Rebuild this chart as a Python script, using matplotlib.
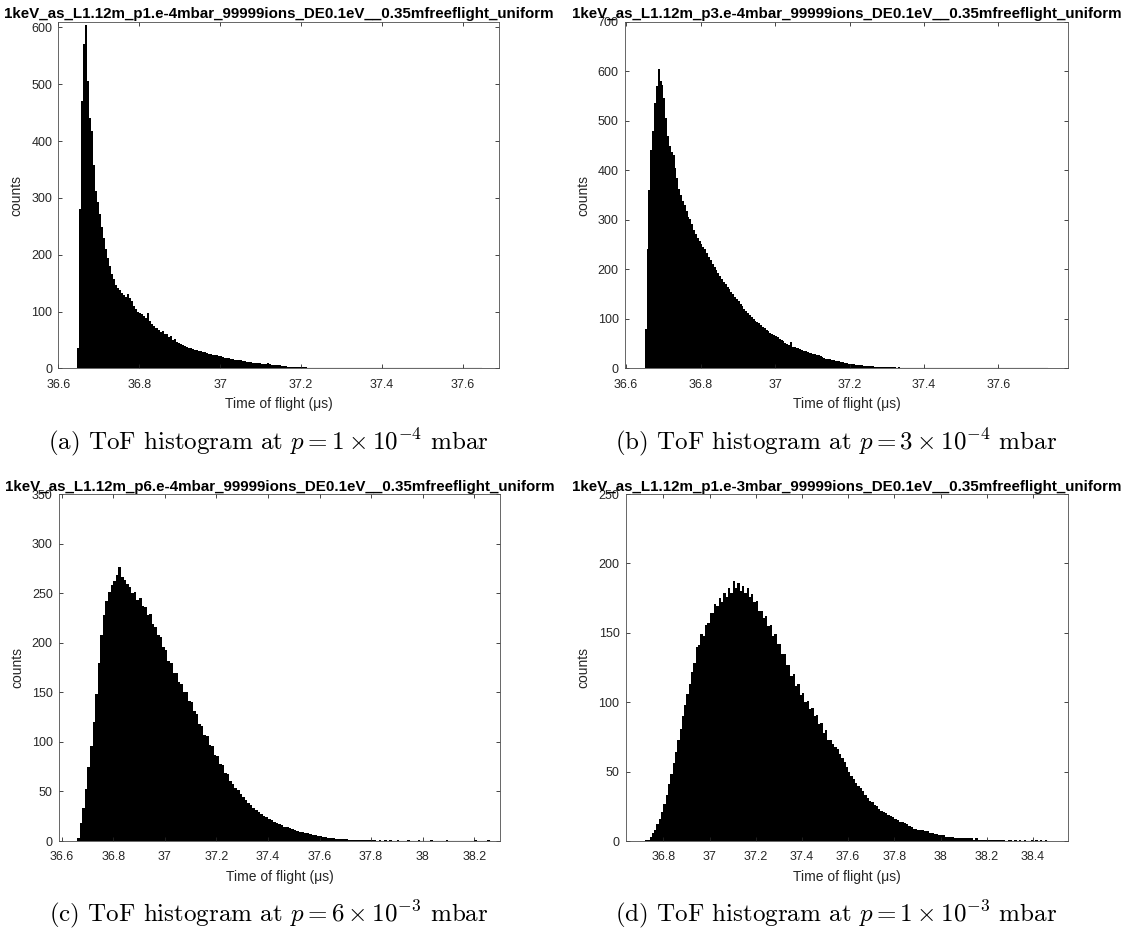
import numpy as np
import matplotlib
matplotlib.use("Agg")
import matplotlib.pyplot as plt
from matplotlib.ticker import FormatStrFormatter

plt.rcParams['font.family'] = ['Liberation Sans', 'DejaVu Sans']
plt.rcParams['mathtext.fontset'] = 'cm'

# histogram data (counts per bin)
start_a = 36.645
width_a = 0.005
counts_a = [35, 280, 470, 570, 605, 505, 440, 418, 358, 312,
            292, 272, 248, 230, 210, 194, 180, 166, 158, 146,
            141, 137, 133, 129, 126, 131, 123, 118, 110, 104,
            100, 97, 95, 92, 88, 98, 84, 78, 74, 71,
            68, 64, 66, 60, 61, 55, 57, 50, 51, 46,
            45, 43, 41, 40, 38, 36, 35, 34, 33, 32,
            31, 30, 29, 28, 27, 26, 25, 24, 24, 23,
            22, 21, 20, 19, 18, 18, 17, 16, 15, 15,
            14, 14, 13, 13, 12, 12, 11, 10, 9, 9,
            9, 8, 8, 7, 10, 7, 6, 6, 5, 5,
            5, 4, 4, 4, 3, 3, 3, 3, 2, 2,
            2, 2, 2, 2, 1, 1, 1, 1, 1, 1,
            1, 1, 1, 1, 1, 1, 1, 0, 1, 1,
            1, 0, 1, 0, 1, 0, 0, 1, 0, 1,
            0, 1, 0, 0, 1, 0, 0, 0, 1, 0,
            0, 0, 1, 0, 0, 0, 1, 0, 0, 0,
            0, 1, 0, 0, 0, 0, 0, 1, 0, 0,
            0, 0, 0, 1, 0, 0, 0, 0, 0, 1,
            0, 0, 0, 0, 1, 0, 0, 0, 0, 0,
            0, 0, 0, 1, 0, 0, 0, 0, 0, 1]

start_b = 36.650
width_b = 0.005
counts_b = [80, 240, 360, 440, 480, 535, 570, 605, 580, 572,
            545, 505, 470, 448, 436, 430, 405, 385, 362, 350,
            338, 330, 318, 306, 302, 292, 280, 271, 263, 257,
            252, 246, 241, 232, 225, 218, 211, 204, 198, 192,
            186, 180, 175, 170, 165, 160, 155, 150, 145, 140,
            135, 130, 125, 120, 116, 112, 108, 104, 100, 96,
            94, 91, 88, 84, 81, 78, 75, 72, 70, 68,
            66, 64, 60, 57, 55, 52, 50, 48, 54, 44,
            43, 42, 41, 40, 38, 36, 34, 33, 31, 30,
            29, 28, 27, 26, 24, 22, 20, 19, 18, 18,
            17, 16, 15, 15, 14, 13, 12, 11, 10, 9,
            9, 8, 8, 7, 7, 6, 6, 5, 5, 5,
            4, 4, 4, 3, 3, 3, 3, 3, 2, 2,
            2, 2, 2, 2, 2, 1, 2, 1, 1, 1,
            1, 1, 1, 1, 1, 1, 0, 1, 1, 0,
            1, 0, 1, 0, 1, 0, 0, 1, 0, 0,
            0, 1, 0, 0, 0, 1, 0, 0, 0, 0,
            0, 0, 1, 0, 0, 0, 0, 1, 0, 0,
            0, 0, 0, 0, 1, 0, 0, 0, 0, 0,
            1, 0, 0, 0, 0, 0, 0, 1, 0, 0,
            0, 0, 0, 0, 0, 0, 0, 0, 0, 0,
            0, 0, 0, 0, 0, 1]

start_c = 36.66
width_c = 0.01
counts_c = [3, 18, 33, 52, 75, 96, 120, 148, 180, 208,
            228, 242, 251, 258, 262, 268, 276, 266, 263, 259,
            256, 250, 251, 243, 245, 237, 236, 228, 229, 219,
            216, 208, 206, 196, 193, 182, 180, 170, 169, 160,
            158, 150, 150, 141, 140, 131, 128, 118, 116, 107,
            106, 97, 96, 87, 86, 78, 77, 69, 68, 61,
            58, 54, 51, 47, 44, 41, 38, 36, 33, 31,
            29, 27, 25, 24, 22, 21, 19, 18, 17, 16,
            14, 14, 13, 12, 11, 10, 9, 9, 8, 8,
            7, 6, 6, 5, 5, 4, 4, 3, 3, 3,
            2, 2, 2, 2, 2, 1, 1, 1, 1, 1,
            1, 1, 1, 1, 1, 1, 0, 1, 0, 1,
            0, 1, 0, 0, 1, 0, 0, 0, 1, 0,
            0, 0, 1, 0, 0, 0, 0, 1, 0, 0,
            0, 0, 0, 1, 0, 0, 0, 0, 0, 0,
            0, 0, 0, 0, 1, 0, 0, 0, 0, 1]

start_d = 36.72
width_d = 0.01
counts_d = [1, 1, 3, 6, 8, 12, 16, 21, 27, 33,
            41, 48, 56, 64, 73, 81, 90, 98, 106, 113,
            122, 128, 140, 141, 149, 148, 156, 157, 164, 164,
            171, 169, 175, 172, 179, 176, 182, 179, 187, 182,
            186, 180, 184, 179, 182, 176, 178, 172, 173, 166,
            166, 161, 162, 155, 156, 148, 149, 142, 142, 135,
            135, 127, 127, 119, 120, 112, 113, 105, 107, 100,
            101, 95, 96, 90, 91, 84, 85, 78, 80, 73,
            73, 70, 68, 66, 63, 60, 57, 53, 50, 47,
            45, 42, 40, 38, 36, 33, 31, 29, 28, 26,
            25, 23, 22, 21, 20, 19, 18, 17, 16, 15,
            14, 14, 13, 12, 11, 10, 9, 9, 8, 8,
            8, 7, 7, 6, 6, 5, 5, 4, 4, 4,
            3, 3, 3, 3, 2, 2, 2, 2, 2, 2,
            2, 2, 1, 2, 1, 1, 1, 1, 1, 1,
            1, 1, 1, 1, 1, 1, 0, 1, 1, 0,
            1, 0, 1, 0, 1, 0, 0, 1, 0, 1,
            0, 1, 0, 1]

titles = ["1keV_as_L1.12m_p1.e-4mbar_99999ions_DE0.1eV__0.35mfreeflight_uniform",
          "1keV_as_L1.12m_p3.e-4mbar_99999ions_DE0.1eV__0.35mfreeflight_uniform",
          "1keV_as_L1.12m_p6.e-4mbar_99999ions_DE0.1eV__0.35mfreeflight_uniform",
          "1keV_as_L1.12m_p1.e-3mbar_99999ions_DE0.1eV__0.35mfreeflight_uniform"]
captions = [r"(a) ToF histogram at $p = 1 \times 10^{-4}$ mbar",
            r"(b) ToF histogram at $p = 3 \times 10^{-4}$ mbar",
            r"(c) ToF histogram at $p = 6 \times 10^{-3}$ mbar",
            r"(d) ToF histogram at $p = 1 \times 10^{-3}$ mbar"]
xticks = [[36.6, 36.8, 37.0, 37.2, 37.4, 37.6],
          [36.6, 36.8, 37.0, 37.2, 37.4, 37.6],
          [36.6, 36.8, 37.0, 37.2, 37.4, 37.6, 37.8, 38.0, 38.2],
          [36.8, 37.0, 37.2, 37.4, 37.6, 37.8, 38.0, 38.2, 38.4]]
ymax = [610, 700, 350, 250]
ystep = [100, 100, 50, 50]
xlims = [(36.6, 37.69), (36.597, 37.787), (36.59, 38.30), (36.637, 38.551)]

GREY = '#262626'


def plot_panel(ax, start, width, counts, title, xt, xlim, top, step):
    counts = np.asarray(counts)
    edges = start + width * np.arange(len(counts) + 1)
    # filled step outline, like matlab's black histogram
    ax.stairs(counts, edges, fill=True, color='black', linewidth=0.6)
    ax.plot([edges[0], edges[-1]], [0, 0], color='black', linewidth=0.8)
    ax.set_xlim(xlim)
    ax.set_ylim(0, top)
    ax.set_xticks(xt)
    ax.set_yticks(np.arange(0, top + 1, step))
    ax.xaxis.set_major_formatter(FormatStrFormatter('%g'))
    ax.tick_params(direction='in', length=3, width=0.6, top=True, right=True,
                   labelsize=9, colors=GREY)
    ax.tick_params(axis='x', pad=7.5)
    ax.tick_params(axis='y', pad=4.5)
    for s in ax.spines.values():
        s.set_color('#4d4d4d')
        s.set_linewidth(0.6)
    ax.set_title(title, fontsize=10.9, fontweight='bold', pad=2.4)
    ax.set_xlabel('Time of flight (\u03bcs)', fontsize=10, color=GREY, va='center')
    ax.set_ylabel('counts', fontsize=10, color=GREY, va='center')
    ax.xaxis.set_label_coords(0.5, -0.1026)
    ax.yaxis.set_label_coords(-0.095, 0.5)


fig = plt.figure(figsize=(11.27, 9.32), dpi=100)
positions = [[0.0519, 0.6048, 0.3909, 0.3719],
             [0.5546, 0.6048, 0.3931, 0.3719],
             [0.0524, 0.0976, 0.3913, 0.3723],
             [0.5552, 0.0976, 0.3923, 0.3723]]
data = [(start_a, width_a, counts_a), (start_b, width_b, counts_b),
        (start_c, width_c, counts_c), (start_d, width_d, counts_d)]

for i in range(4):
    ax = fig.add_axes(positions[i])
    plot_panel(ax, data[i][0], data[i][1], data[i][2], titles[i],
               xticks[i], xlims[i], ymax[i], ystep[i])

# subfigure captions (LaTeX look)
cap_xy = [(0.2378, 0.5254), (0.7415, 0.5254), (0.2384, 0.019), (0.7417, 0.019)]
for (cx, cy), cap in zip(cap_xy, captions):
    fig.text(cx, cy, cap, ha='center', va='center', fontsize=18, family='cmr10')

fig.savefig('out.png', dpi=100)
